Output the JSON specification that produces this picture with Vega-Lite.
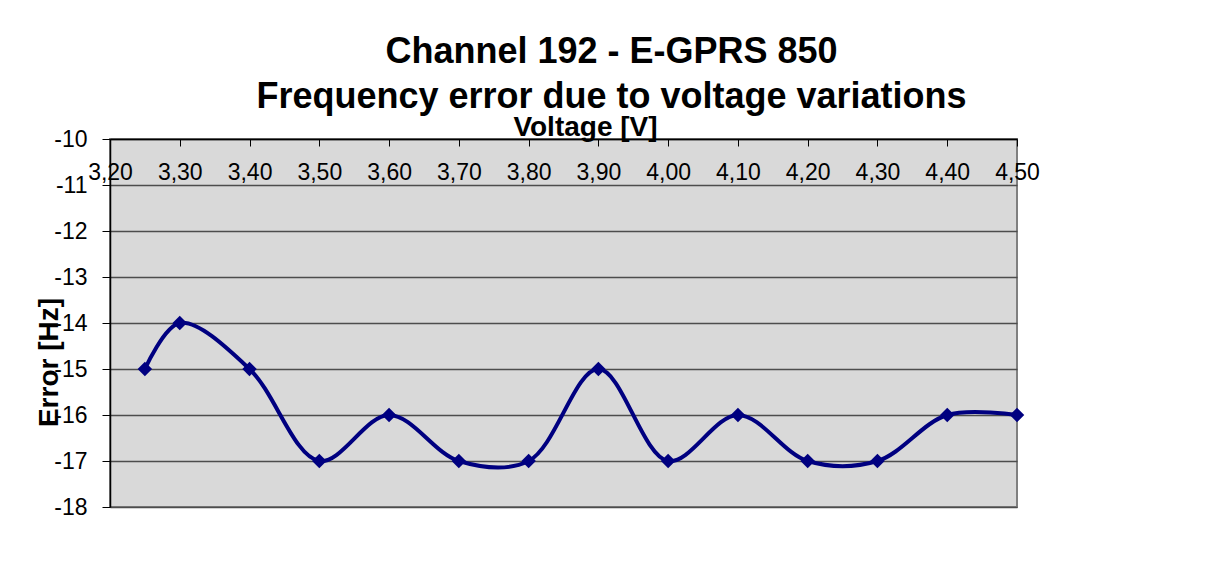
{
  "$schema": "https://vega.github.io/schema/vega-lite/v6.json",
  "width": 907,
  "height": 368,
  "autosize": "none",
  "padding": {"left": 110, "top": 139, "right": 198, "bottom": 69},
  "background": "white",
  "config": {
    "font": "Liberation Sans",
    "view": {"fill": "#d9d9d9", "stroke": "#808080", "strokeWidth": 2}
  },
  "title": {
    "text": ["Channel 192 - E-GPRS 850", "Frequency error due to voltage variations"],
    "fontSize": 36,
    "fontWeight": "bold",
    "color": "black",
    "lineHeight": 45,
    "anchor": "middle",
    "frame": "group",
    "dx": 48,
    "offset": -3
  },
  "data": {
    "values": [
      {"v": 3.25, "e": -15},
      {"v": 3.3, "e": -14},
      {"v": 3.4, "e": -15},
      {"v": 3.5, "e": -17},
      {"v": 3.6, "e": -16},
      {"v": 3.7, "e": -17},
      {"v": 3.8, "e": -17},
      {"v": 3.9, "e": -15},
      {"v": 4.0, "e": -17},
      {"v": 4.1, "e": -16},
      {"v": 4.2, "e": -17},
      {"v": 4.3, "e": -17},
      {"v": 4.4, "e": -16},
      {"v": 4.5, "e": -16}
    ]
  },
  "encoding": {
    "x": {
      "field": "v",
      "type": "quantitative",
      "scale": {"domain": [3.2, 4.5], "nice": false, "zero": false},
      "axis": {
        "orient": "top",
        "title": "Voltage [V]",
        "titleFontSize": 28,
        "titleFontWeight": "bold",
        "titleColor": "black",
        "titleX": 475,
        "titleY": -4,
        "titleAlign": "center",
        "titleBaseline": "alphabetic",
        "values": [3.2, 3.3, 3.4, 3.5, 3.6, 3.7, 3.8, 3.9, 4.0, 4.1, 4.2, 4.3, 4.4, 4.5],
        "labelExpr": "replace(format(datum.value, '.2f'), '.', ',')",
        "labelFontSize": 23,
        "labelColor": "black",
        "labelPadding": -38,
        "labelFlush": false,
        "labelOverlap": false,
        "labelBound": false,
        "tickSize": -7,
        "tickColor": "black",
        "domainColor": "black",
        "domainWidth": 1.5,
        "grid": false
      }
    },
    "y": {
      "field": "e",
      "type": "quantitative",
      "scale": {"domain": [-18, -10], "nice": false, "zero": false},
      "axis": {
        "title": "Error [Hz]",
        "titleFontSize": 28,
        "titleFontWeight": "bold",
        "titleColor": "black",
        "titleX": -61,
        "titleY": 223,
        "titleAlign": "center",
        "titleBaseline": "middle",
        "values": [-18, -17, -16, -15, -14, -13, -12, -11, -10],
        "labelExpr": "replace(datum.label, '\u2212', '-')",
        "labelFontSize": 23,
        "labelColor": "black",
        "labelPadding": 15,
        "labelFlush": false,
        "labelOverlap": false,
        "tickSize": 8,
        "tickColor": "black",
        "domainColor": "black",
        "domainWidth": 1.5,
        "grid": true,
        "gridColor": "#4d4d4d",
        "gridWidth": 1.5
      }
    }
  },
  "layer": [
    {
      "mark": {"type": "line", "interpolate": "catmull-rom", "color": "#000080", "strokeWidth": 4}
    },
    {
      "mark": {"type": "point", "shape": "diamond", "filled": true, "size": 210, "color": "#000080", "opacity": 1}
    }
  ]
}
